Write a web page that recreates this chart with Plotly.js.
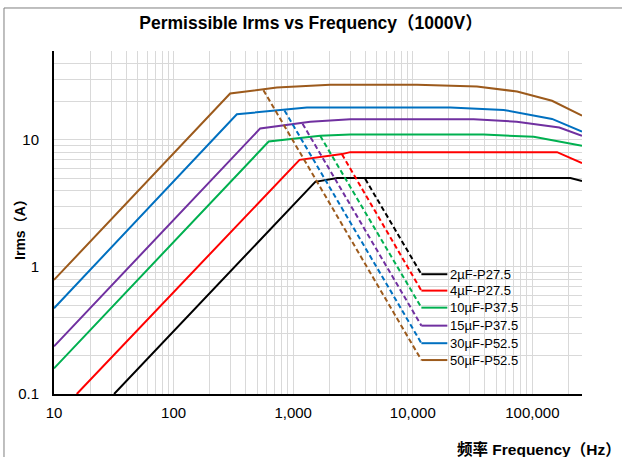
<!DOCTYPE html>
<html>
<head>
<meta charset="utf-8">
<script src="https://cdn.plot.ly/plotly-3.0.1.min.js"></script>
<style>html,body{margin:0;padding:0;background:#fff;}#chart{width:622px;height:457px;}</style>
</head>
<body>
<div id="chart"></div>
<script>
// ---- data ----
const seriesNames = ["2µF-P27.5", "4µF-P27.5", "10µF-P37.5", "15µF-P37.5", "30µF-P52.5", "50µF-P52.5"];
const seriesColors = ["#000000", "#FF0000", "#00B050", "#7030A0", "#0070C0", "#9C5A1C"];

// solid (permissible) curves
const freq2uF  = [31.8, 1530, 2340, 208000, 260000];
const irms2uF  = [0.1, 4.67, 5.0, 5.0, 4.75];
const freq4uF  = [15.5, 1130, 2560, 3000, 161000, 260000];
const irms4uF  = [0.1, 6.96, 7.72, 8.0, 8.0, 6.55];
const freq10uF = [10, 624, 1683, 3000, 39100, 102600, 260000];
const irms10uF = [0.159, 9.7, 10.75, 11.0, 11.0, 10.56, 8.97];
const freq15uF = [10, 530, 1388, 3000, 32300, 74000, 168000, 260000];
const irms15uF = [0.237, 12.3, 13.9, 14.55, 14.55, 13.9, 12.5, 10.75];
const freq30uF = [10, 338, 1302, 20600, 57500, 146000, 260000];
const irms30uF = [0.473, 15.9, 17.96, 17.96, 17.2, 14.6, 11.6];
const freq50uF = [10, 297, 730, 2040, 10840, 34400, 74500, 146000, 260000];
const irms50uF = [0.79, 23.15, 25.8, 27.1, 27.1, 26.3, 24.0, 20.3, 15.5];

// dashed (voltage-limited) lines: start on curve, end at label leader
const dashFreq2uF  = [4000, 11800];  const dashIrms2uF  = [4.93, 0.876];
const dashFreq4uF  = [2556, 11800];  const dashIrms4uF  = [7.7, 0.651];
const dashFreq10uF = [1683, 11800];  const dashIrms10uF = [10.75, 0.478];
const dashFreq15uF = [1197, 11800];  const dashIrms15uF = [13.4, 0.345];
const dashFreq30uF = [846, 11800];   const dashIrms30uF = [17.0, 0.251];
const dashFreq50uF = [564, 11800];   const dashIrms50uF = [24.6, 0.185];

// label leader end frequency
const leaderEndFreq = 19450;

const xTickVals = [10, 100, 1000, 10000, 100000];
const xTickText = ["10", "100", "1,000", "10,000", "100,000"];
const yTickVals = [0.1, 1, 10];
const yTickText = ["0.1", "1", "10"];

const titleText = "Permissible Irms vs Frequency（1000V）";
const xTitleText = "频率 Frequency（Hz）";
const yTitleText = "Irms（A）";

// ---- build traces ----
const solidF = [freq2uF, freq4uF, freq10uF, freq15uF, freq30uF, freq50uF];
const solidI = [irms2uF, irms4uF, irms10uF, irms15uF, irms30uF, irms50uF];
const dashF = [dashFreq2uF, dashFreq4uF, dashFreq10uF, dashFreq15uF, dashFreq30uF, dashFreq50uF];
const dashI = [dashIrms2uF, dashIrms4uF, dashIrms10uF, dashIrms15uF, dashIrms30uF, dashIrms50uF];

const FONT = "Liberation Sans, Arial, Noto Sans CJK SC, sans-serif";
const traces = [];
const annotations = [];
for (let i = 0; i < seriesNames.length; i++) {
  traces.push({x: solidF[i], y: solidI[i], mode: "lines", type: "scatter",
    line: {color: seriesColors[i], width: 2}, hoverinfo: "skip", showlegend: false});
  traces.push({x: dashF[i], y: dashI[i], mode: "lines", type: "scatter",
    line: {color: seriesColors[i], width: 2, dash: "5px,3px"}, hoverinfo: "skip", showlegend: false});
  const endF = dashF[i][dashF[i].length - 1];
  const endI = dashI[i][dashI[i].length - 1];
  traces.push({x: [endF, leaderEndFreq], y: [endI, endI], mode: "lines", type: "scatter",
    line: {color: seriesColors[i], width: 2}, hoverinfo: "skip", showlegend: false});
  annotations.push({x: Math.log10(leaderEndFreq), y: Math.log10(endI), xref: "x", yref: "y",
    text: seriesNames[i], showarrow: false, xanchor: "left", yanchor: "middle", xshift: 1,
    font: {family: FONT, size: 13, color: "#000"}});
}

annotations.push({x: -0.0644, y: 0.49, xref: "paper", yref: "paper", text: "<b>" + yTitleText + "</b>",
  textangle: -90, showarrow: false, xanchor: "center", yanchor: "middle",
  font: {family: FONT, size: 14, color: "#000"}});
annotations.push({x: 0.918, y: -0.160, xref: "paper", yref: "paper", text: "<b>" + xTitleText + "</b>",
  showarrow: false, xanchor: "center", yanchor: "middle",
  font: {family: FONT, size: 15.5, color: "#000"}});

const layout = {
  width: 622, height: 457,
  margin: {l: 54, r: 40, t: 51, b: 63},
  paper_bgcolor: "#fff", plot_bgcolor: "#fff",
  title: {text: "<b>" + titleText + "</b>", x: 0.5, xref: "container", y: 0.95, yref: "container",
    xanchor: "center", yanchor: "middle", font: {family: FONT, size: 17.5, color: "#000"}},
  xaxis: {type: "log", range: [1, Math.log10(260000)], tickvals: xTickVals, ticktext: xTickText,
    showline: true, linecolor: "#000", linewidth: 2, ticks: "", ticklabelstandoff: 4,
    showgrid: true, gridcolor: "#D9D9D9", gridwidth: 1,
    minor: {dtick: "D1", showgrid: true, gridcolor: "#D9D9D9", gridwidth: 1, ticks: ""},
    tickfont: {family: FONT, size: 15, color: "#000"}, fixedrange: true},
  yaxis: {type: "log", range: [-1, Math.log10(50)], tickvals: yTickVals, ticktext: yTickText,
    showline: true, linecolor: "#000", linewidth: 2, ticks: "", ticklabelstandoff: 10,
    showgrid: true, gridcolor: "#D9D9D9", gridwidth: 1,
    minor: {dtick: "D1", showgrid: true, gridcolor: "#D9D9D9", gridwidth: 1, ticks: ""},
    tickfont: {family: FONT, size: 15, color: "#000"}, fixedrange: true},
  shapes: [
    {type: "rect", xref: "paper", yref: "paper", x0: 0.742, x1: 0.883, y0: 0.08, y1: 0.376,
      fillcolor: "#fff", line: {width: 0}, layer: "between"},
    {type: "rect", xref: "paper", yref: "paper", x0: -0.0947, x1: 1.2, y0: -0.3, y1: 1.1254,
      fillcolor: "rgba(0,0,0,0)", line: {color: "#7F7F7F", width: 1}, layer: "above"}
  ],
  annotations: annotations,
  showlegend: false
};

Plotly.newPlot("chart", traces, layout, {staticPlot: true, displayModeBar: false});
</script>
</body>
</html>
